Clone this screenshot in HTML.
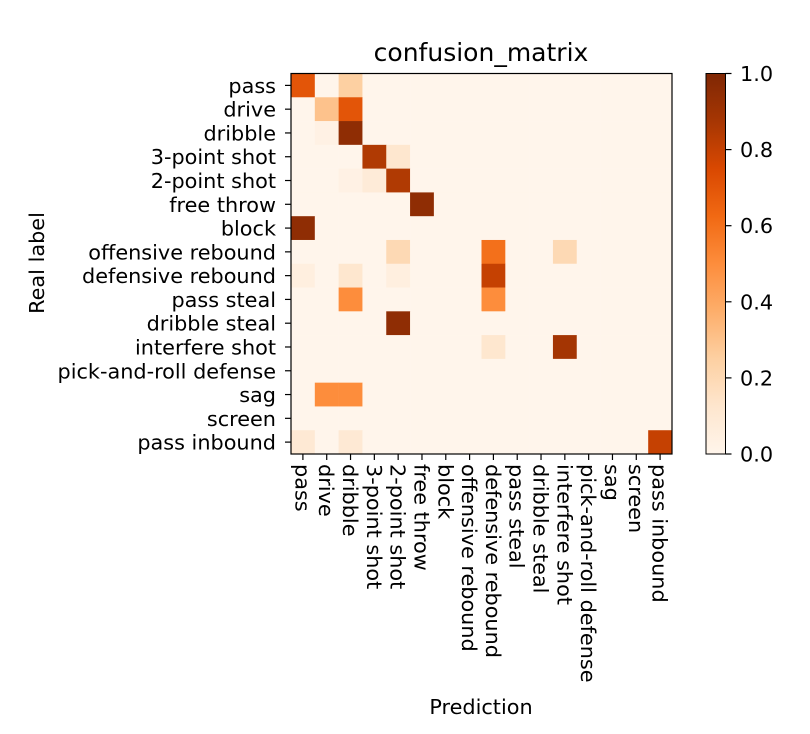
<!DOCTYPE html>
<html><head><meta charset="utf-8"><style>
body{margin:0;background:#fff;}
svg text{font-family:"DejaVu Sans","Liberation Sans",sans-serif;fill:#000;}
</style></head><body>
<svg id="chart" width="810" height="729" xmlns="http://www.w3.org/2000/svg">
<defs>
<linearGradient id="cbgrad" x1="0" y1="1" x2="0" y2="0">
<stop offset="0" stop-color="#fff5eb"/><stop offset="0.125" stop-color="#fee6ce"/><stop offset="0.25" stop-color="#fdd0a2"/><stop offset="0.375" stop-color="#fdae6b"/><stop offset="0.5" stop-color="#fd8d3c"/><stop offset="0.625" stop-color="#f16913"/><stop offset="0.75" stop-color="#d94801"/><stop offset="0.875" stop-color="#a63603"/><stop offset="1" stop-color="#7f2704"/>
</linearGradient>
</defs>
<text x="481" y="61" font-size="25" text-anchor="middle">confusion_matrix</text>
<g id="cells"></g>
<g id="axes"></g>
<text transform="translate(44,263) rotate(-90)" font-size="20.8" text-anchor="middle">Real label</text>
<text x="481" y="714" font-size="20.8" text-anchor="middle">Prediction</text>
<rect x="706" y="73.5" width="19.5" height="380.5" fill="url(#cbgrad)" stroke="#000" stroke-width="1"/>
<g id="cbticks"></g>
</svg>
<script>
const labels=["pass","drive","dribble","3-point shot","2-point shot","free throw","block","offensive rebound","defensive rebound","pass steal","dribble steal","interfere shot","pick-and-roll defense","sag","screen","pass inbound"];
const rowPass=[0.7,0,0.25,0,0,0,0,0,0,0,0,0,0,0,0,0];
const rowDrive=[0,0.3,0.7,0,0,0,0,0,0,0,0,0,0,0,0,0];
const rowDribble=[0,0.03,0.95,0,0,0,0,0,0,0,0,0,0,0,0,0];
const row3pt=[0,0,0,0.85,0.12,0,0,0,0,0,0,0,0,0,0,0];
const row2pt=[0,0,0.03,0.08,0.85,0,0,0,0,0,0,0,0,0,0,0];
const rowFree=[0,0,0,0,0,0.95,0,0,0,0,0,0,0,0,0,0];
const rowBlock=[0.95,0,0,0,0,0,0,0,0,0,0,0,0,0,0,0];
const rowOffReb=[0,0,0,0,0.2,0,0,0,0.6,0,0,0.2,0,0,0,0];
const rowDefReb=[0.05,0,0.12,0,0.05,0,0,0,0.8,0,0,0,0,0,0,0];
const rowPassSteal=[0,0,0.5,0,0,0,0,0,0.5,0,0,0,0,0,0,0];
const rowDribSteal=[0,0,0,0,0.95,0,0,0,0,0,0,0,0,0,0,0];
const rowInterfere=[0,0,0,0,0,0,0,0,0.12,0,0,0.88,0,0,0,0];
const rowPnr=[0,0,0,0,0,0,0,0,0,0,0,0,0,0,0,0];
const rowSag=[0,0.5,0.5,0,0,0,0,0,0,0,0,0,0,0,0,0];
const rowScreen=[0,0,0,0,0,0,0,0,0,0,0,0,0,0,0,0];
const rowInbound=[0.1,0,0.1,0,0,0,0,0,0,0,0,0,0,0,0,0.8];
const matrix=[rowPass,rowDrive,rowDribble,row3pt,row2pt,rowFree,rowBlock,rowOffReb,rowDefReb,rowPassSteal,rowDribSteal,rowInterfere,rowPnr,rowSag,rowScreen,rowInbound];
const cbTicks=[0,0.2,0.4,0.6,0.8,1.0];
const cbTickLabels=["0.0","0.2","0.4","0.6","0.8","1.0"];

const NS="http://www.w3.org/2000/svg";
const X0=291,Y0=73.5,W=381,H=380.5;
const FS=20.8;
const cw=W/labels.length,ch=H/labels.length;
const xs=i=>X0+i*cw, ys=i=>Y0+i*ch;
const stops=["#fff5eb","#fee6ce","#fdd0a2","#fdae6b","#fd8d3c","#f16913","#d94801","#a63603","#7f2704"].map(h=>[parseInt(h.slice(1,3),16),parseInt(h.slice(3,5),16),parseInt(h.slice(5,7),16)]);
function cmap(v){v=Math.max(0,Math.min(1,v));const p=v*8,i=Math.min(7,Math.floor(p)),f=p-i;const a=stops[i],b=stops[i+1];return "rgb("+a.map((c,k)=>Math.round(c+(b[k]-c)*f)).join(",")+")";}
function mk(t,at,parent){const e=document.createElementNS(NS,t);for(const k in at)e.setAttribute(k,at[k]);parent.appendChild(e);return e;}
const cells=document.getElementById('cells');
matrix.forEach((row,r)=>row.forEach((v,c)=>{
  const e=mk('rect',{x:xs(c),y:ys(r),width:cw+0.3,height:ch+0.3,fill:cmap(v)},cells);
  
  
}));
const axes=document.getElementById('axes');
const frame=mk('rect',{x:X0,y:Y0,width:W,height:H,fill:'none',stroke:'#000','stroke-width':1.2},axes);


labels.forEach((l,i)=>{
  const cy=ys(i)+ch/2, cx=xs(i)+cw/2;
  mk('line',{x1:X0-6,y1:cy,x2:X0,y2:cy,stroke:'#000','stroke-width':1.2},axes);
  const ty=mk('text',{x:X0-15,y:cy+7.5,'font-size':FS,'text-anchor':'end'},axes);
  ty.textContent=l;
  
  
  mk('line',{x1:cx,y1:Y0+H,x2:cx,y2:Y0+H+6,stroke:'#000','stroke-width':1.2},axes);
  const tx=mk('text',{transform:'translate('+(cx-7.5)+','+(Y0+H+10)+') rotate(90)','font-size':FS,'text-anchor':'start'},axes);
  tx.textContent=l;
  
  
});
const cbt=document.getElementById('cbticks');
cbTicks.forEach((v,i)=>{
  const y=Y0+H-v*H;
  mk('line',{x1:725.5,y1:y,x2:731.5,y2:y,stroke:'#000','stroke-width':1.2},cbt);
  const t=mk('text',{x:740,y:y+7.5,'font-size':FS},cbt);
  t.textContent=cbTickLabels[i];
  
  
});
</script>
</body></html>
